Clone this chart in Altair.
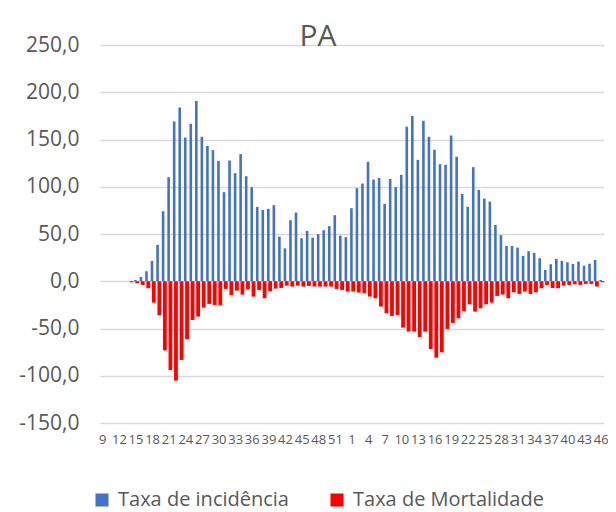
import altair as alt
import pandas as pd

weeks_2020 = list(range(9, 54))
weeks_2021 = list(range(1, 47))

incidencia = [0, 0, 0, 0, 0, 0,
    1.4, 4.5, 10.6, 21.5, 38.5, 74.1, 110.2, 169.1, 183.9, 152.1,
    166.6, 190.7, 152.9, 143.3, 138.8, 127.4, 94.3, 127.8, 114.4, 134.5,
    111.2, 99.6, 78.7, 75.5, 76.6, 80.5, 47.2, 34.9, 64.6, 72.7,
    45.5, 53.3, 46.2, 49.8, 54.0, 58.3, 69.9, 48.3, 46.6, 77.3,
    98.5, 103.4, 126.4, 107.6, 109.4, 81.9, 108.4, 99.6, 112.6, 163.5,
    174.8, 128.5, 169.8, 152.9, 139.1, 123.9, 123.2, 154.2, 131.7, 92.5,
    78.7, 120.8, 96.7, 87.5, 84.3, 59.6, 48.7, 37.4, 37.4, 35.6,
    26.8, 31.8, 30.0, 24.4, 12.0, 18.0, 23.6, 21.5, 20.1, 18.3,
    20.8, 16.5, 18.6, 22.6, 1.4]

mortalidade = [0, 0, 0, 0, 0,
    -1.1, -2.1, -3.9, -7.4, -22.6, -36.0, -73.1, -93.9, -105.2, -83.3,
    -61.4, -41.0, -37.4, -27.9, -24.0, -25.1, -25.4, -8.1, -14.8, -9.9,
    -14.1, -8.5, -16.2, -9.2, -18.0, -10.6, -7.8, -7.1, -4.6, -5.6,
    -4.6, -5.6, -4.9, -5.6, -5.6, -5.6, -5.6, -8.1, -9.2, -10.9,
    -10.9, -12.0, -12.7, -16.2, -18.0, -26.8, -33.9, -36.7, -35.7, -49.1,
    -53.3, -53.3, -59.0, -53.3, -71.7, -80.9, -75.2, -50.5, -44.1, -39.2,
    -31.8, -24.4, -32.1, -28.6, -24.4, -22.6, -15.5, -14.1, -18.0, -11.7,
    -13.4, -10.9, -13.4, -11.7, -7.4, -3.9, -7.1, -7.4, -4.6, -3.9,
    -3.2, -3.9, -2.8, -2.8, -5.6, -1.1]

y_ticks = [-150, -100, -50, 0, 50, 100, 150, 200, 250]
series_names = ["Taxa de incidência", "Taxa de Mortalidade"]
series_colors = ["#4472C4", "#FF0000"]

keys = ["a%d" % w for w in weeks_2020] + ["b%d" % w for w in weeks_2021]
rows = []
for k, v in zip(keys, incidencia):
    rows.append({"key": k, "serie": series_names[0], "valor": v})
for k, v in zip(keys, mortalidade):
    rows.append({"key": k, "serie": series_names[1], "valor": v})
df = pd.DataFrame(rows)

FONT = "Open Sans"
GREY = "#595959"

x_enc = alt.X("key:N", sort=keys, title=None,
              scale=alt.Scale(paddingInner=0, paddingOuter=0),
              axis=alt.Axis(values=keys[::3], labelExpr="substring(datum.value, 1)",
                            labelAngle=0, labelOverlap=False, labelFlush=False,
                            domain=False, ticks=False, grid=False,
                            labelFont=FONT, labelFontSize=13, labelColor=GREY,
                            labelPadding=10))
y_enc = alt.Y("valor:Q", title=None,
              scale=alt.Scale(domain=[-150, 250], nice=False),
              axis=alt.Axis(values=y_ticks, labelExpr="toString(datum.value) + ',0'",
                            domain=False, ticks=False, gridColor="#d9d9d9", gridWidth=1.3,
                            labelFont=FONT, labelFontSize=21, labelColor=GREY,
                            labelPadding=21))
color_enc = alt.Color("serie:N", title=None,
                      scale=alt.Scale(domain=series_names, range=series_colors),
                      legend=alt.Legend(orient="none", direction="horizontal",
                                        legendX=-8, legendY=445, symbolType="square",
                                        symbolSize=170, symbolStrokeWidth=0,
                                        labelFont=FONT, labelFontSize=20, labelColor=GREY,
                                        labelLimit=400, labelOffset=6, columnPadding=38,
                                        padding=0))

base = alt.Chart(df).encode(x=x_enc, y=y_enc, color=color_enc)
inc = base.transform_filter(alt.datum.serie == series_names[0]).mark_bar(size=2.6, xOffset=-0.6)
mor = base.transform_filter(alt.datum.serie == series_names[1]).mark_bar(size=3.8, xOffset=1.2)

chart = alt.layer(inc, mor).properties(
    width=504, height=378,
    title=alt.TitleParams(text="PA", font=FONT, fontSize=30, fontWeight="normal",
                          color=GREY, anchor="middle", dx=-34, dy=18, offset=0),
    autosize=alt.AutoSizeParams(type="none"),
    padding={"left": 92, "top": 37, "right": 4, "bottom": 93},
).configure_view(stroke=None)

chart.save("out.html", embed_options={"renderer": "svg", "actions": False})
